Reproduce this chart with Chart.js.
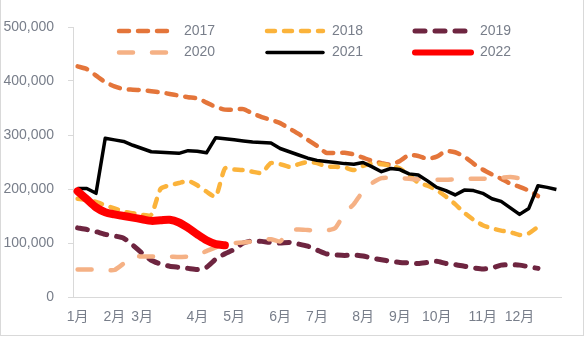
<!DOCTYPE html>
<html lang="zh">
    <head>
        <meta charset="utf-8">
        <title>周度走势 2017-2022</title>
        <script src="https://cdn.jsdelivr.net/npm/chart.js"></script>
        <style>
            body { margin: 0; background: #fff; }
            #wrap { width: 585px; height: 338px; }
        </style>
    </head>
    <body>
        <div id="wrap"><canvas id="graph" width="585" height="338"></canvas></div>
        <script>
            // 53 weekly points, month names only on the week each month starts
            const weekCount = 53;
            const monthNames = ['1月', '2月', '3月', '4月', '5月', '6月', '7月', '8月', '9月', '10月', '11月', '12月'];
            const monthWeeks = [0, 4, 7, 13, 17, 22, 26, 31, 35, 39, 44, 48];
            const yTicks = [0, 100000, 200000, 300000, 400000, 500000];

            const years = ['2017', '2018', '2019', '2020', '2021', '2022'];
            const y2017 = [427000, 422000, 410000, 398000, 390000, 385000, 384000, 383000, 381000, 379000,
                376000, 373000, 370000, 368000, 360000, 352000, 347000, 347000, 348000, 340000,
                333000, 328000, 322000, 312000, 302000, 291000, 280000, 267000, 267000, 267000,
                264000, 258000, 252000, 248000, 245000, 252000, 263000, 261000, 256000, 260000,
                270000, 268000, 260000, 247000, 236000, 227000, 219000, 210000, 204000, 197000, 187000];
            const y2018 = [182000, 180000, 176000, 170000, 164000, 158000, 155000, 152000, 152000, 200000,
                207000, 211000, 215000, 207000, 195000, 186000, 238000, 236000, 235000, 232000,
                230000, 248000, 246000, 241000, 246000, 250000, 248000, 242000, 241000, 240000,
                235000, 243000, 247000, 246000, 243000, 238000, 225000, 212000, 206000, 198000,
                186000, 172000, 156000, 143000, 133000, 127000, 123000, 120000, 115000, 118000, 130000];
            const y2019 = [128000, 125000, 121000, 116000, 113000, 109000, 96000, 81000, 68000, 61000,
                57000, 55000, 53000, 51000, 55000, 70000, 80000, 88000, 100000, 104000,
                103000, 101000, 100000, 101000, 98000, 94000, 87000, 80000, 78000, 77000,
                78000, 76000, 72000, 69000, 66000, 64000, 63000, 62000, 64000, 66000,
                62000, 60000, 57000, 54000, 52000, 54000, 59000, 60000, 59000, 56000, 53000];
            const y2020 = [51000, 51000, 51000, 50000, 50000, 62000, 75000, 75000, 75000, 75000,
                75000, 74000, 75000, 78000, 85000, 92000, 98000, 100000, 101000, 103000,
                106000, 107000, 103000, 123000, 125000, 124000, 123000, 123000, 128000, 155000,
                172000, 196000, 211000, 220000, 221000, 220000, 219000, 218000, 218000, 217000,
                217000, 218000, 219000, 219000, 219000, 220000, 221000, 222000, 220000];
            const y2021 = [201000, 201000, 192000, 294000, 291000, 288000, 281000, 275000, 269000, 268000,
                267000, 266000, 271000, 270000, 267000, 295000, 293000, 291000, 289000, 287000,
                286000, 285000, 275000, 269000, 263000, 257000, 253000, 251000, 249000, 247000,
                246000, 249000, 241000, 232000, 238000, 236000, 228000, 226000, 215000, 203000,
                197000, 189000, 198000, 197000, 192000, 182000, 177000, 165000, 153000, 164000,
                206000, 203000, 199000];
            const y2022 = [196000, 181000, 166000, 157000, 153000, 150000, 147000, 144000, 141000, 142000,
                143000, 138000, 128000, 116000, 105000, 98000, 96000];

            const labels = [];
            for (let i = 0; i < weekCount; i++) {
                const m = monthWeeks.indexOf(i);
                labels.push(m >= 0 ? monthNames[m] : '');
            }

            const textColor = '#787e8a';
            const axisColor = '#d9d9d9';
            const fontFamily = "'Liberation Sans', 'Noto Sans CJK SC', sans-serif";

            function dashed(label, data, color, width, dash, order) {
                return {
                    label: label, data: data,
                    borderColor: color, backgroundColor: color,
                    borderWidth: width, borderDash: dash,
                    borderCapStyle: 'round', borderJoinStyle: 'round',
                    pointRadius: 0, tension: 0.2, fill: false, order: order
                };
            }

            const datasets = [
                dashed(years[0], y2017, '#e4753a', 4.5, [10, 9], 6),
                dashed(years[1], y2018, '#fbb33b', 4.5, [8, 9], 5),
                dashed(years[2], y2019, '#6e2540', 5, [10, 10], 4),
                dashed(years[3], y2020, '#f5b185', 4.5, [14, 19], 3),
                {
                    label: years[4], data: y2021, borderColor: '#000000', backgroundColor: '#000000',
                    borderWidth: 3.5, borderJoinStyle: 'round', pointRadius: 0, tension: 0, fill: false, order: 2
                },
                {
                    label: years[5], data: y2022, borderColor: '#ff0000', backgroundColor: '#ff0000',
                    borderWidth: 8, borderCapStyle: 'round', borderJoinStyle: 'round',
                    pointRadius: 0, tension: 0.3, fill: false, order: 1
                }
            ];

            // legend: 3 columns x 2 rows sitting over the top of the plot
            const legendCols = [117, 265, 413];
            const legendRows = [31, 52.5];
            const yearLegend = {
                id: 'yearLegend',
                afterDraw(chart) {
                    const ctx = chart.ctx;
                    ctx.save();
                    chart.data.datasets.forEach(function(ds, i) {
                        const x = legendCols[i % 3];
                        const y = legendRows[Math.floor(i / 3)];
                        ctx.beginPath();
                        ctx.strokeStyle = ds.borderColor;
                        ctx.lineWidth = Math.min(ds.borderWidth, 6);
                        ctx.lineCap = 'round';
                        ctx.setLineDash(ds.borderDash || []);
                        ctx.moveTo(x + 2, y);
                        ctx.lineTo(x + 58, y);
                        ctx.stroke();
                        ctx.setLineDash([]);
                        ctx.fillStyle = textColor;
                        ctx.font = '14px ' + fontFamily;
                        ctx.textBaseline = 'middle';
                        ctx.textAlign = 'left';
                        ctx.fillText(ds.label, x + 67, y);
                    });
                    ctx.restore();
                }
            };

            // thin frame on the left, right and bottom edges
            const frame = {
                id: 'frame',
                beforeDraw(chart) {
                    const ctx = chart.ctx;
                    ctx.save();
                    ctx.strokeStyle = axisColor;
                    ctx.lineWidth = 1;
                    ctx.strokeRect(0.5, -2, 583, 337.5);
                    ctx.restore();
                }
            };

            const ctx = document.getElementById('graph').getContext('2d');
            const graph = new Chart(ctx, {
                type: 'line',
                data: { labels: labels, datasets: datasets },
                plugins: [frame, yearLegend],
                options: {
                    responsive: false,
                    animation: false,
                    devicePixelRatio: 1,
                    layout: { padding: { left: 3, right: 24, top: 27, bottom: 12 } },
                    plugins: {
                        legend: { display: false },
                        tooltip: { enabled: false }
                    },
                    scales: {
                        x: {
                            offset: true,
                            grid: { display: false, drawTicks: false },
                            border: { display: true, color: axisColor, width: 1 },
                            ticks: {
                                autoSkip: false, maxRotation: 0, minRotation: 0, padding: 12,
                                color: textColor, font: { size: 14, family: fontFamily }
                            },
                            afterFit: function(scale) { scale.height = 29; }
                        },
                        y: {
                            min: 0, max: 500000,
                            afterBuildTicks: function(scale) {
                                scale.ticks = yTicks.map(function(v) { return { value: v }; });
                            },
                            grid: { display: true, drawOnChartArea: false, drawTicks: true, tickLength: 5, color: axisColor },
                            border: { display: true, color: axisColor, width: 1 },
                            ticks: {
                                padding: 14, color: textColor, font: { size: 14, family: fontFamily },
                                callback: function(v) { return v.toLocaleString('en-US'); }
                            },
                            afterFit: function(scale) { scale.width = 70; }
                        }
                    }
                }
            });
        </script>
    </body>
</html>
